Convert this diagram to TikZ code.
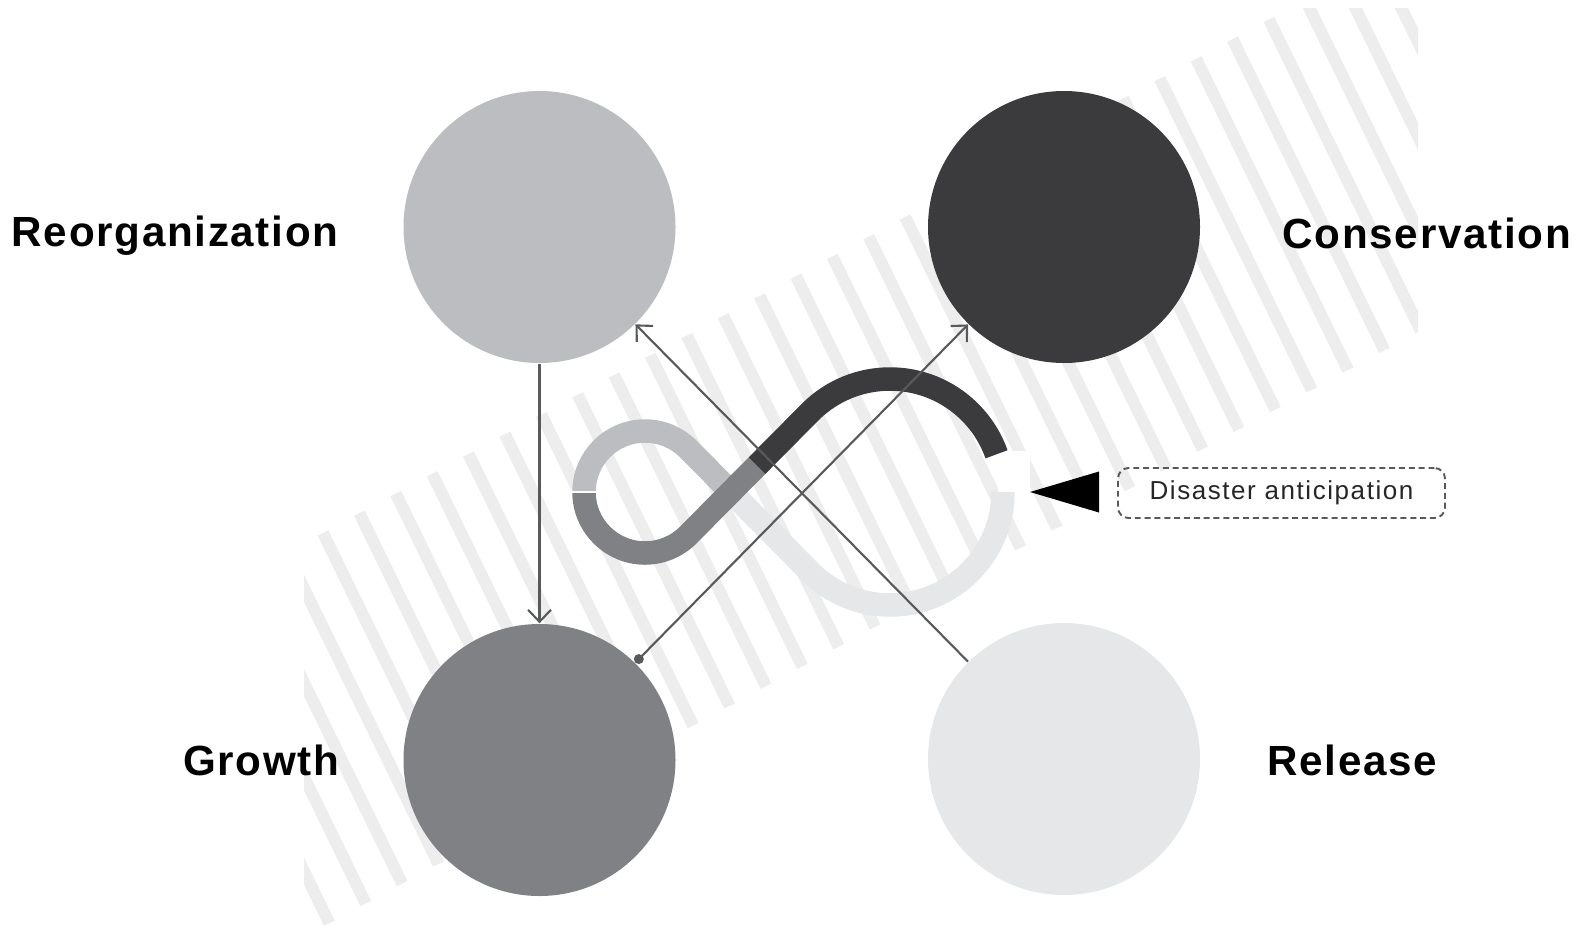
\documentclass[tikz,border=0pt]{standalone}
\usepackage{fontspec}
\setmainfont{Liberation Sans}
\newfontfamily\phasefont[LetterSpace=4]{Liberation Sans}
\newfontfamily\notefont[LetterSpace=6]{Liberation Sans}
\usepackage{tikz}
\usetikzlibrary{arrows.meta}
\usetikzlibrary{calc}
\usepackage{xcolor}
\definecolor{reorgc}{HTML}{BCBDC0}
\definecolor{consc}{HTML}{3B3B3D}
\definecolor{growc}{HTML}{808184}
\definecolor{relc}{HTML}{E6E7E8}
\definecolor{stripec}{HTML}{EDEDEE}
\definecolor{linec}{HTML}{58595B}

\begin{document}
\begin{tikzpicture}[
phase/.style={circle,minimum size=2.72cm,inner sep=0pt},
phasename/.style={inner sep=0pt,font=\phasefont\bfseries\fontsize{12}{14}\selectfont},
band/.style={line width=0.235cm},
link/.style={draw=linec,line width=0.6pt,-{Straight Barb[length=3.4pt,width=6.5pt]}},
warn/.style={draw=linec,line width=0.55pt,dash pattern=on 1.7pt off 1.1pt,rounded corners=3pt,
  minimum width=3.27cm,minimum height=0.5cm,inner sep=0pt,
  font=\notefont\fontsize{7.4}{9}\selectfont,text=black!85}]

\useasboundingbox (0,0) rectangle (15.79,9.37);

% striped band behind everything
\begin{scope}
\clip (3.04,0.05) rectangle (14.18,9.29);
\begin{scope}[shift={(3.23,4.04)},rotate=28.5]
\foreach \i in {-5,...,31}
  \draw[stripec,line width=0.12cm] (\i*0.414,0) -- (\i*0.414-0.15,-3.46);
\end{scope}
\end{scope}

% the four phases
\node[phase,fill=reorgc] (reorg) at (5.395,7.10) {};
\node[phase,fill=consc] (cons) at (10.64,7.10) {};
\node[phase,fill=growc] (grow) at (5.395,1.77) {};
\node[phase,fill=relc] (rel) at (10.64,1.78) {};

\node[phasename,anchor=base east] (reorgname) at (3.39,6.91) {Reorganization};
\node[phasename,anchor=base west] (consname) at (12.82,6.89) {Conservation};
\node[phasename,anchor=base east] (growname) at (3.40,1.62) {Growth};
\node[phasename,anchor=base west] (relname) at (12.67,1.62) {Release};

% infinity loop
\coordinate (lc) at (6.45,4.45);
\coordinate (rc) at (8.90,4.45);
\coordinate (cross) at (7.31,4.45);
\coordinate (lb) at ($(lc)+(-45:0.61)$);
\coordinate (rt) at ($(rc)+(135:1.13)$);
\coordinate (swap) at ($(lb)!0.565!(rt)$);

\fill[white] (9.98,4.45) rectangle (10.30,4.86);
\draw[band,reorgc] ($(lc)+(180:0.61)$) arc[start angle=180,end angle=45,radius=0.61] -- (cross);
\draw[band,relc] ($(rc)+(0:1.13)$) arc[start angle=0,end angle=-135,radius=1.13] -- (cross);
\draw[band,growc] ($(lc)+(180:0.61)$) arc[start angle=180,end angle=315,radius=0.61] -- (swap);
\draw[band,consc] (swap) -- (rt) arc[start angle=135,end angle=19.5,radius=1.13];
\draw[white,line width=0.4pt] ($(lc)+(180:0.49)$) -- ($(lc)+(180:0.73)$);

% transitions
\draw[link] (reorg) -- (grow);
\draw[link] (rel) -- (reorg);
\draw[link,{Circle[length=2.8pt]}-{Straight Barb[length=3.4pt,width=6.5pt]}] (grow) -- (cons);

% disaster pointer
\node[warn] (disaster) at (12.815,4.44) {Disaster anticipation};
\fill (10.30,4.45) -- (10.99,4.655) -- (10.99,4.245) -- cycle;

\end{tikzpicture}
\end{document}
